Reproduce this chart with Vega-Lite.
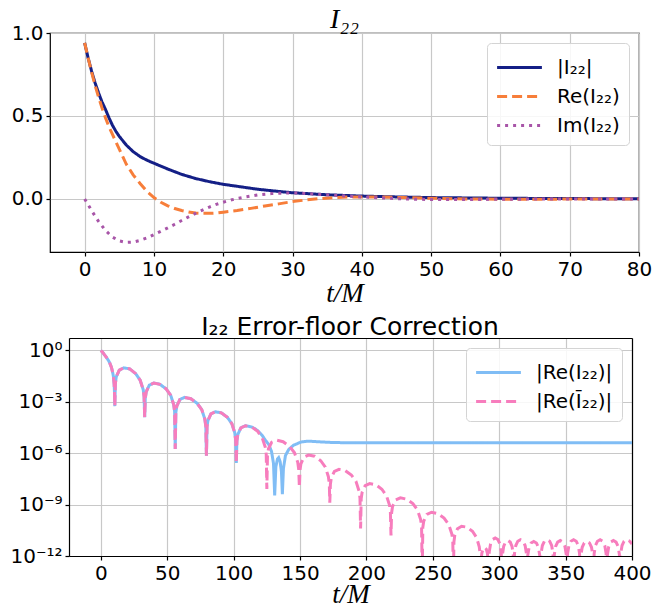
{
"$schema": "https://vega.github.io/schema/vega-lite/v6.json",
"background": "white",
"padding": {"left": 9, "top": 5, "right": 2, "bottom": 0},
"spacing": 8,
"bounds": "full",
"config": {
  "font": "DejaVu Sans",
  "view": {"stroke": "#000", "strokeWidth": 1.2},
  "axis": {"grid": true, "gridColor": "#c8c8c8", "gridWidth": 1.2, "domain": false, "domainColor": "#000", "domainWidth": 1.2, "tickColor": "#000", "tickSize": 4, "tickWidth": 1.2, "labelFont": "DejaVu Sans", "labelFontSize": 20, "labelColor": "#000", "labelPadding": 3, "titleFont": "Liberation Serif", "titleFontStyle": "italic", "titleFontWeight": "normal", "titleFontSize": 27, "titleColor": "#000", "titlePadding": 1, "labelFlush": false, "labelOverlap": false},
  "legend": {"orient": "top-right", "offset": 10, "fillColor": "rgba(255,255,255,0.85)", "strokeColor": "#d4d4d4", "cornerRadius": 4, "padding": 9, "labelFont": "DejaVu Sans", "labelFontSize": 20, "labelColor": "#000", "symbolType": "M-1.6,0H1.6", "symbolSize": 784, "symbolStrokeWidth": 3, "symbolOffset": 8, "labelOffset": 22, "rowPadding": 3},
  "title": {"fontWeight": "normal", "color": "#000"}
},
"resolve": {"scale": {"color": "independent", "strokeDash": "independent"}, "legend": {"color": "independent", "strokeDash": "independent"}},
"datasets": {
 "top": [
  {"t":0,"value":0.94,"series":"|I₂₂|"},{"t":0.5,"value":0.85,"series":"|I₂₂|"},{"t":1,"value":0.77,"series":"|I₂₂|"},{"t":1.5,"value":0.70,"series":"|I₂₂|"},{"t":2,"value":0.64,"series":"|I₂₂|"},{"t":2.5,"value":0.585,"series":"|I₂₂|"},{"t":3,"value":0.54,"series":"|I₂₂|"},{"t":3.5,"value":0.49,"series":"|I₂₂|"},{"t":4,"value":0.445,"series":"|I₂₂|"},{"t":4.5,"value":0.408,"series":"|I₂₂|"},{"t":5,"value":0.377,"series":"|I₂₂|"},{"t":6,"value":0.325,"series":"|I₂₂|"},{"t":7,"value":0.285,"series":"|I₂₂|"},{"t":8,"value":0.255,"series":"|I₂₂|"},{"t":9,"value":0.233,"series":"|I₂₂|"},{"t":10,"value":0.215,"series":"|I₂₂|"},{"t":12,"value":0.18,"series":"|I₂₂|"},{"t":14,"value":0.148,"series":"|I₂₂|"},{"t":16,"value":0.123,"series":"|I₂₂|"},{"t":18,"value":0.104,"series":"|I₂₂|"},{"t":20,"value":0.088,"series":"|I₂₂|"},{"t":22,"value":0.076,"series":"|I₂₂|"},{"t":25,"value":0.058,"series":"|I₂₂|"},{"t":28,"value":0.045,"series":"|I₂₂|"},{"t":30,"value":0.037,"series":"|I₂₂|"},{"t":35,"value":0.025,"series":"|I₂₂|"},{"t":40,"value":0.017,"series":"|I₂₂|"},{"t":45,"value":0.012,"series":"|I₂₂|"},{"t":50,"value":0.008,"series":"|I₂₂|"},{"t":55,"value":0.006,"series":"|I₂₂|"},{"t":60,"value":0.004,"series":"|I₂₂|"},{"t":70,"value":0.002,"series":"|I₂₂|"},{"t":80,"value":0.001,"series":"|I₂₂|"},
  {"t":0,"value":0.94,"series":"Re(I₂₂)"},{"t":0.5,"value":0.85,"series":"Re(I₂₂)"},{"t":1,"value":0.765,"series":"Re(I₂₂)"},{"t":1.5,"value":0.685,"series":"Re(I₂₂)"},{"t":2,"value":0.615,"series":"Re(I₂₂)"},{"t":2.5,"value":0.55,"series":"Re(I₂₂)"},{"t":3,"value":0.49,"series":"Re(I₂₂)"},{"t":3.5,"value":0.435,"series":"Re(I₂₂)"},{"t":4,"value":0.39,"series":"Re(I₂₂)"},{"t":5,"value":0.30,"series":"Re(I₂₂)"},{"t":6,"value":0.21,"series":"Re(I₂₂)"},{"t":7,"value":0.145,"series":"Re(I₂₂)"},{"t":8,"value":0.093,"series":"Re(I₂₂)"},{"t":9,"value":0.045,"series":"Re(I₂₂)"},{"t":10,"value":0.008,"series":"Re(I₂₂)"},{"t":11,"value":-0.02,"series":"Re(I₂₂)"},{"t":12,"value":-0.042,"series":"Re(I₂₂)"},{"t":13,"value":-0.058,"series":"Re(I₂₂)"},{"t":14,"value":-0.07,"series":"Re(I₂₂)"},{"t":15,"value":-0.079,"series":"Re(I₂₂)"},{"t":16,"value":-0.085,"series":"Re(I₂₂)"},{"t":17,"value":-0.087,"series":"Re(I₂₂)"},{"t":18,"value":-0.087,"series":"Re(I₂₂)"},{"t":19,"value":-0.085,"series":"Re(I₂₂)"},{"t":20,"value":-0.08,"series":"Re(I₂₂)"},{"t":22,"value":-0.07,"series":"Re(I₂₂)"},{"t":24,"value":-0.057,"series":"Re(I₂₂)"},{"t":26,"value":-0.043,"series":"Re(I₂₂)"},{"t":28,"value":-0.03,"series":"Re(I₂₂)"},{"t":30,"value":-0.016,"series":"Re(I₂₂)"},{"t":32,"value":-0.006,"series":"Re(I₂₂)"},{"t":34,"value":0.002,"series":"Re(I₂₂)"},{"t":36,"value":0.008,"series":"Re(I₂₂)"},{"t":38,"value":0.011,"series":"Re(I₂₂)"},{"t":40,"value":0.012,"series":"Re(I₂₂)"},{"t":43,"value":0.011,"series":"Re(I₂₂)"},{"t":46,"value":0.008,"series":"Re(I₂₂)"},{"t":50,"value":0.004,"series":"Re(I₂₂)"},{"t":55,"value":0.0,"series":"Re(I₂₂)"},{"t":60,"value":-0.002,"series":"Re(I₂₂)"},{"t":65,"value":-0.002,"series":"Re(I₂₂)"},{"t":70,"value":-0.001,"series":"Re(I₂₂)"},{"t":80,"value":0.0,"series":"Re(I₂₂)"},
  {"t":0,"value":0.0,"series":"Im(I₂₂)"},{"t":0.5,"value":-0.035,"series":"Im(I₂₂)"},{"t":1,"value":-0.07,"series":"Im(I₂₂)"},{"t":1.5,"value":-0.103,"series":"Im(I₂₂)"},{"t":2,"value":-0.135,"series":"Im(I₂₂)"},{"t":3,"value":-0.19,"series":"Im(I₂₂)"},{"t":4,"value":-0.23,"series":"Im(I₂₂)"},{"t":5,"value":-0.253,"series":"Im(I₂₂)"},{"t":6,"value":-0.262,"series":"Im(I₂₂)"},{"t":7,"value":-0.26,"series":"Im(I₂₂)"},{"t":8,"value":-0.25,"series":"Im(I₂₂)"},{"t":9,"value":-0.235,"series":"Im(I₂₂)"},{"t":10,"value":-0.215,"series":"Im(I₂₂)"},{"t":11,"value":-0.195,"series":"Im(I₂₂)"},{"t":12,"value":-0.175,"series":"Im(I₂₂)"},{"t":13,"value":-0.153,"series":"Im(I₂₂)"},{"t":14,"value":-0.13,"series":"Im(I₂₂)"},{"t":15,"value":-0.108,"series":"Im(I₂₂)"},{"t":16,"value":-0.087,"series":"Im(I₂₂)"},{"t":17,"value":-0.067,"series":"Im(I₂₂)"},{"t":18,"value":-0.049,"series":"Im(I₂₂)"},{"t":19,"value":-0.033,"series":"Im(I₂₂)"},{"t":20,"value":-0.02,"series":"Im(I₂₂)"},{"t":21,"value":-0.008,"series":"Im(I₂₂)"},{"t":22,"value":0.002,"series":"Im(I₂₂)"},{"t":23,"value":0.01,"series":"Im(I₂₂)"},{"t":25,"value":0.024,"series":"Im(I₂₂)"},{"t":27,"value":0.032,"series":"Im(I₂₂)"},{"t":29,"value":0.036,"series":"Im(I₂₂)"},{"t":31,"value":0.035,"series":"Im(I₂₂)"},{"t":34,"value":0.027,"series":"Im(I₂₂)"},{"t":37,"value":0.019,"series":"Im(I₂₂)"},{"t":40,"value":0.012,"series":"Im(I₂₂)"},{"t":43,"value":0.006,"series":"Im(I₂₂)"},{"t":46,"value":0.0,"series":"Im(I₂₂)"},{"t":50,"value":-0.004,"series":"Im(I₂₂)"},{"t":55,"value":-0.004,"series":"Im(I₂₂)"},{"t":60,"value":-0.002,"series":"Im(I₂₂)"},{"t":65,"value":-0.001,"series":"Im(I₂₂)"},{"t":70,"value":0.0,"series":"Im(I₂₂)"},{"t":80,"value":0.0,"series":"Im(I₂₂)"}
 ],
 "bottom": [
  {"t":0,"log10":-0.027,"series":"|Re(I₂₂)|"},{"t":1.2,"log10":-0.12,"series":"|Re(I₂₂)|"},{"t":2.9,"log10":-0.30,"series":"|Re(I₂₂)|"},{"t":4.1,"log10":-0.42,"series":"|Re(I₂₂)|"},{"t":5,"log10":-0.52,"series":"|Re(I₂₂)|"},{"t":6.5,"log10":-0.72,"series":"|Re(I₂₂)|"},{"t":8,"log10":-1.02,"series":"|Re(I₂₂)|"},{"t":9,"log10":-1.35,"series":"|Re(I₂₂)|"},{"t":9.5,"log10":-1.57,"series":"|Re(I₂₂)|"},{"t":10,"log10":-2.0,"series":"|Re(I₂₂)|"},{"t":10.3,"log10":-2.55,"series":"|Re(I₂₂)|"},{"t":10.5,"log10":-3.27,"series":"|Re(I₂₂)|"},
  {"t":10.95,"log10":-1.94,"series":"|Re(I₂₂)|"},{"t":11.6,"log10":-1.56,"series":"|Re(I₂₂)|"},{"t":13.9,"log10":-1.17,"series":"|Re(I₂₂)|"},{"t":17.25,"log10":-1.04,"series":"|Re(I₂₂)|"},{"t":21.75,"log10":-1.1,"series":"|Re(I₂₂)|"},{"t":26.25,"log10":-1.38,"series":"|Re(I₂₂)|"},{"t":29.6,"log10":-1.76,"series":"|Re(I₂₂)|"},{"t":31.9,"log10":-2.31,"series":"|Re(I₂₂)|"},{"t":32.55,"log10":-2.72,"series":"|Re(I₂₂)|"},{"t":33,"log10":-3.92,"series":"|Re(I₂₂)|"},
  {"t":33.46,"log10":-2.80,"series":"|Re(I₂₂)|"},{"t":34.15,"log10":-2.44,"series":"|Re(I₂₂)|"},{"t":36.45,"log10":-2.05,"series":"|Re(I₂₂)|"},{"t":39.9,"log10":-1.92,"series":"|Re(I₂₂)|"},{"t":44.5,"log10":-2.00,"series":"|Re(I₂₂)|"},{"t":49.1,"log10":-2.26,"series":"|Re(I₂₂)|"},{"t":52.55,"log10":-2.63,"series":"|Re(I₂₂)|"},{"t":54.85,"log10":-3.18,"series":"|Re(I₂₂)|"},{"t":55.54,"log10":-3.59,"series":"|Re(I₂₂)|"},{"t":56,"log10":-5.77,"series":"|Re(I₂₂)|"},
  {"t":56.47,"log10":-3.63,"series":"|Re(I₂₂)|"},{"t":57.18,"log10":-3.27,"series":"|Re(I₂₂)|"},{"t":59.53,"log10":-2.88,"series":"|Re(I₂₂)|"},{"t":63.05,"log10":-2.76,"series":"|Re(I₂₂)|"},{"t":67.75,"log10":-2.84,"series":"|Re(I₂₂)|"},{"t":72.45,"log10":-3.10,"series":"|Re(I₂₂)|"},{"t":75.98,"log10":-3.47,"series":"|Re(I₂₂)|"},{"t":78.33,"log10":-4.03,"series":"|Re(I₂₂)|"},{"t":79.03,"log10":-4.44,"series":"|Re(I₂₂)|"},{"t":79.5,"log10":-6.16,"series":"|Re(I₂₂)|"},
  {"t":79.95,"log10":-4.47,"series":"|Re(I₂₂)|"},{"t":80.63,"log10":-4.11,"series":"|Re(I₂₂)|"},{"t":82.88,"log10":-3.72,"series":"|Re(I₂₂)|"},{"t":86.25,"log10":-3.60,"series":"|Re(I₂₂)|"},{"t":90.75,"log10":-3.66,"series":"|Re(I₂₂)|"},{"t":95.25,"log10":-3.92,"series":"|Re(I₂₂)|"},{"t":98.63,"log10":-4.29,"series":"|Re(I₂₂)|"},{"t":100.88,"log10":-4.83,"series":"|Re(I₂₂)|"},{"t":101.55,"log10":-5.26,"series":"|Re(I₂₂)|"},{"t":102,"log10":-6.58,"series":"|Re(I₂₂)|"},
  {"t":102.46,"log10":-5.29,"series":"|Re(I₂₂)|"},{"t":103.15,"log10":-4.92,"series":"|Re(I₂₂)|"},{"t":105.45,"log10":-4.53,"series":"|Re(I₂₂)|"},{"t":108.9,"log10":-4.41,"series":"|Re(I₂₂)|"},{"t":113.5,"log10":-4.48,"series":"|Re(I₂₂)|"},
  {"t":116,"log10":-4.58,"series":"|Re(I₂₂)|"},{"t":118.1,"log10":-4.70,"series":"|Re(I₂₂)|"},{"t":121.55,"log10":-4.98,"series":"|Re(I₂₂)|"},{"t":123.85,"log10":-5.25,"series":"|Re(I₂₂)|"},{"t":126.4,"log10":-5.5,"series":"|Re(I₂₂)|"},{"t":128.5,"log10":-5.9,"series":"|Re(I₂₂)|"},{"t":130,"log10":-6.6,"series":"|Re(I₂₂)|"},{"t":130.9,"log10":-8.47,"series":"|Re(I₂₂)|"},{"t":131.8,"log10":-6.8,"series":"|Re(I₂₂)|"},{"t":133,"log10":-6.35,"series":"|Re(I₂₂)|"},{"t":133.9,"log10":-6.27,"series":"|Re(I₂₂)|"},{"t":135,"log10":-6.5,"series":"|Re(I₂₂)|"},{"t":136,"log10":-7.1,"series":"|Re(I₂₂)|"},{"t":136.7,"log10":-8.4,"series":"|Re(I₂₂)|"},{"t":137.5,"log10":-6.9,"series":"|Re(I₂₂)|"},{"t":139,"log10":-6.15,"series":"|Re(I₂₂)|"},{"t":141.5,"log10":-5.79,"series":"|Re(I₂₂)|"},{"t":145,"log10":-5.55,"series":"|Re(I₂₂)|"},{"t":150.8,"log10":-5.36,"series":"|Re(I₂₂)|"},{"t":156,"log10":-5.31,"series":"|Re(I₂₂)|"},{"t":165,"log10":-5.35,"series":"|Re(I₂₂)|"},{"t":175,"log10":-5.39,"series":"|Re(I₂₂)|"},{"t":185,"log10":-5.40,"series":"|Re(I₂₂)|"},{"t":250,"log10":-5.40,"series":"|Re(I₂₂)|"},{"t":320,"log10":-5.40,"series":"|Re(I₂₂)|"},{"t":400,"log10":-5.40,"series":"|Re(I₂₂)|"},

  {"t":0,"log10":-0.027,"series":"|Re(Ī₂₂)|"},{"t":1.2,"log10":-0.12,"series":"|Re(Ī₂₂)|"},{"t":2.9,"log10":-0.30,"series":"|Re(Ī₂₂)|"},{"t":4.1,"log10":-0.42,"series":"|Re(Ī₂₂)|"},{"t":5,"log10":-0.52,"series":"|Re(Ī₂₂)|"},{"t":6.5,"log10":-0.72,"series":"|Re(Ī₂₂)|"},{"t":8,"log10":-1.02,"series":"|Re(Ī₂₂)|"},{"t":9,"log10":-1.35,"series":"|Re(Ī₂₂)|"},{"t":9.5,"log10":-1.57,"series":"|Re(Ī₂₂)|"},{"t":10,"log10":-2.0,"series":"|Re(Ī₂₂)|"},{"t":10.3,"log10":-2.55,"series":"|Re(Ī₂₂)|"},{"t":10.5,"log10":-3.27,"series":"|Re(Ī₂₂)|"},
  {"t":10.95,"log10":-1.94,"series":"|Re(Ī₂₂)|"},{"t":11.6,"log10":-1.56,"series":"|Re(Ī₂₂)|"},{"t":13.9,"log10":-1.17,"series":"|Re(Ī₂₂)|"},{"t":17.25,"log10":-1.04,"series":"|Re(Ī₂₂)|"},{"t":21.75,"log10":-1.1,"series":"|Re(Ī₂₂)|"},{"t":26.25,"log10":-1.38,"series":"|Re(Ī₂₂)|"},{"t":29.6,"log10":-1.76,"series":"|Re(Ī₂₂)|"},{"t":31.9,"log10":-2.31,"series":"|Re(Ī₂₂)|"},{"t":32.55,"log10":-2.72,"series":"|Re(Ī₂₂)|"},{"t":33,"log10":-3.92,"series":"|Re(Ī₂₂)|"},
  {"t":33.46,"log10":-2.80,"series":"|Re(Ī₂₂)|"},{"t":34.15,"log10":-2.44,"series":"|Re(Ī₂₂)|"},{"t":36.45,"log10":-2.05,"series":"|Re(Ī₂₂)|"},{"t":39.9,"log10":-1.92,"series":"|Re(Ī₂₂)|"},{"t":44.5,"log10":-2.00,"series":"|Re(Ī₂₂)|"},{"t":49.1,"log10":-2.26,"series":"|Re(Ī₂₂)|"},{"t":52.55,"log10":-2.63,"series":"|Re(Ī₂₂)|"},{"t":54.85,"log10":-3.18,"series":"|Re(Ī₂₂)|"},{"t":55.54,"log10":-3.59,"series":"|Re(Ī₂₂)|"},{"t":56,"log10":-5.77,"series":"|Re(Ī₂₂)|"},
  {"t":56.47,"log10":-3.63,"series":"|Re(Ī₂₂)|"},{"t":57.18,"log10":-3.27,"series":"|Re(Ī₂₂)|"},{"t":59.53,"log10":-2.88,"series":"|Re(Ī₂₂)|"},{"t":63.05,"log10":-2.76,"series":"|Re(Ī₂₂)|"},{"t":67.75,"log10":-2.84,"series":"|Re(Ī₂₂)|"},{"t":72.45,"log10":-3.10,"series":"|Re(Ī₂₂)|"},{"t":75.98,"log10":-3.47,"series":"|Re(Ī₂₂)|"},{"t":78.33,"log10":-4.03,"series":"|Re(Ī₂₂)|"},{"t":79.03,"log10":-4.44,"series":"|Re(Ī₂₂)|"},{"t":79.5,"log10":-6.16,"series":"|Re(Ī₂₂)|"},
  {"t":79.95,"log10":-4.47,"series":"|Re(Ī₂₂)|"},{"t":80.63,"log10":-4.11,"series":"|Re(Ī₂₂)|"},{"t":82.88,"log10":-3.72,"series":"|Re(Ī₂₂)|"},{"t":86.25,"log10":-3.60,"series":"|Re(Ī₂₂)|"},{"t":90.75,"log10":-3.66,"series":"|Re(Ī₂₂)|"},{"t":95.25,"log10":-3.92,"series":"|Re(Ī₂₂)|"},{"t":98.63,"log10":-4.29,"series":"|Re(Ī₂₂)|"},{"t":100.88,"log10":-4.83,"series":"|Re(Ī₂₂)|"},{"t":101.55,"log10":-5.26,"series":"|Re(Ī₂₂)|"},{"t":102,"log10":-6.58,"series":"|Re(Ī₂₂)|"},
  {"t":102.46,"log10":-5.29,"series":"|Re(Ī₂₂)|"},{"t":103.15,"log10":-4.92,"series":"|Re(Ī₂₂)|"},{"t":105.45,"log10":-4.53,"series":"|Re(Ī₂₂)|"},{"t":108.9,"log10":-4.41,"series":"|Re(Ī₂₂)|"},{"t":113.5,"log10":-4.48,"series":"|Re(Ī₂₂)|"},
  {"t":118.1,"log10":-4.74,"series":"|Re(Ī₂₂)|"},{"t":121.55,"log10":-5.12,"series":"|Re(Ī₂₂)|"},{"t":123.85,"log10":-5.67,"series":"|Re(Ī₂₂)|"},{"t":124.54,"log10":-6.08,"series":"|Re(Ī₂₂)|"},{"t":125,"log10":-8.1,"series":"|Re(Ī₂₂)|"},
  {"t":125.49,"log10":-6.11,"series":"|Re(Ī₂₂)|"},{"t":126.23,"log10":-5.75,"series":"|Re(Ī₂₂)|"},{"t":128.68,"log10":-5.37,"series":"|Re(Ī₂₂)|"},{"t":132.35,"log10":-5.25,"series":"|Re(Ī₂₂)|"},{"t":137.25,"log10":-5.34,"series":"|Re(Ī₂₂)|"},{"t":142.15,"log10":-5.61,"series":"|Re(Ī₂₂)|"},{"t":145.83,"log10":-5.99,"series":"|Re(Ī₂₂)|"},{"t":148.28,"log10":-6.54,"series":"|Re(Ī₂₂)|"},{"t":149.01,"log10":-6.96,"series":"|Re(Ī₂₂)|"},{"t":149.5,"log10":-8.0,"series":"|Re(Ī₂₂)|"},
  {"t":149.96,"log10":-7.0,"series":"|Re(Ī₂₂)|"},{"t":150.65,"log10":-6.63,"series":"|Re(Ī₂₂)|"},{"t":152.95,"log10":-6.24,"series":"|Re(Ī₂₂)|"},{"t":156.4,"log10":-6.12,"series":"|Re(Ī₂₂)|"},{"t":161,"log10":-6.19,"series":"|Re(Ī₂₂)|"},{"t":165.6,"log10":-6.45,"series":"|Re(Ī₂₂)|"},{"t":169.05,"log10":-6.82,"series":"|Re(Ī₂₂)|"},{"t":171.35,"log10":-7.38,"series":"|Re(Ī₂₂)|"},{"t":172.04,"log10":-7.79,"series":"|Re(Ī₂₂)|"},{"t":172.4,"log10":-8.9,"series":"|Re(Ī₂₂)|"},
  {"t":172.86,"log10":-7.82,"series":"|Re(Ī₂₂)|"},{"t":173.56,"log10":-7.45,"series":"|Re(Ī₂₂)|"},{"t":175.88,"log10":-7.07,"series":"|Re(Ī₂₂)|"},{"t":179.36,"log10":-6.95,"series":"|Re(Ī₂₂)|"},{"t":184,"log10":-7.02,"series":"|Re(Ī₂₂)|"},{"t":188.64,"log10":-7.28,"series":"|Re(Ī₂₂)|"},{"t":192.12,"log10":-7.65,"series":"|Re(Ī₂₂)|"},{"t":194.44,"log10":-8.21,"series":"|Re(Ī₂₂)|"},{"t":195.14,"log10":-8.62,"series":"|Re(Ī₂₂)|"},{"t":195.6,"log10":-10.4,"series":"|Re(Ī₂₂)|"},
  {"t":196.06,"log10":-8.65,"series":"|Re(Ī₂₂)|"},{"t":196.75,"log10":-8.29,"series":"|Re(Ī₂₂)|"},{"t":199.04,"log10":-7.90,"series":"|Re(Ī₂₂)|"},{"t":202.47,"log10":-7.78,"series":"|Re(Ī₂₂)|"},{"t":207.05,"log10":-7.85,"series":"|Re(Ī₂₂)|"},{"t":211.63,"log10":-8.11,"series":"|Re(Ī₂₂)|"},{"t":215.07,"log10":-8.48,"series":"|Re(Ī₂₂)|"},{"t":217.36,"log10":-9.03,"series":"|Re(Ī₂₂)|"},{"t":218.04,"log10":-9.45,"series":"|Re(Ī₂₂)|"},{"t":218.5,"log10":-10.8,"series":"|Re(Ī₂₂)|"},
  {"t":218.97,"log10":-9.48,"series":"|Re(Ī₂₂)|"},{"t":219.68,"log10":-9.11,"series":"|Re(Ī₂₂)|"},{"t":222.03,"log10":-8.73,"series":"|Re(Ī₂₂)|"},{"t":225.55,"log10":-8.61,"series":"|Re(Ī₂₂)|"},{"t":230.25,"log10":-8.69,"series":"|Re(Ī₂₂)|"},{"t":234.95,"log10":-8.95,"series":"|Re(Ī₂₂)|"},{"t":238.48,"log10":-9.32,"series":"|Re(Ī₂₂)|"},{"t":240.83,"log10":-9.88,"series":"|Re(Ī₂₂)|"},{"t":241.53,"log10":-10.29,"series":"|Re(Ī₂₂)|"},{"t":242,"log10":-13,"series":"|Re(Ī₂₂)|"},
  {"t":242.47,"log10":-10.33,"series":"|Re(Ī₂₂)|"},{"t":243.18,"log10":-9.96,"series":"|Re(Ī₂₂)|"},{"t":245.53,"log10":-9.58,"series":"|Re(Ī₂₂)|"},{"t":249.05,"log10":-9.45,"series":"|Re(Ī₂₂)|"},{"t":253.75,"log10":-9.53,"series":"|Re(Ī₂₂)|"},{"t":258.45,"log10":-9.79,"series":"|Re(Ī₂₂)|"},{"t":261.98,"log10":-10.17,"series":"|Re(Ī₂₂)|"},{"t":264.33,"log10":-10.72,"series":"|Re(Ī₂₂)|"},{"t":265.03,"log10":-11.14,"series":"|Re(Ī₂₂)|"},{"t":265.5,"log10":-13,"series":"|Re(Ī₂₂)|"},
  {"t":265.91,"log10":-11.17,"series":"|Re(Ī₂₂)|"},{"t":266.53,"log10":-10.80,"series":"|Re(Ī₂₂)|"},{"t":268.58,"log10":-10.41,"series":"|Re(Ī₂₂)|"},{"t":271.65,"log10":-10.27,"series":"|Re(Ī₂₂)|"},{"t":275.75,"log10":-10.32,"series":"|Re(Ī₂₂)|"},{"t":279.85,"log10":-10.56,"series":"|Re(Ī₂₂)|"},{"t":282.93,"log10":-10.92,"series":"|Re(Ī₂₂)|"},{"t":284.98,"log10":-11.47,"series":"|Re(Ī₂₂)|"},{"t":285.59,"log10":-11.88,"series":"|Re(Ī₂₂)|"},{"t":286,"log10":-13,"series":"|Re(Ī₂₂)|"},
  {"t":286.3,"log10":-12.31,"series":"|Re(Ī₂₂)|"},{"t":286.9,"log10":-11.84,"series":"|Re(Ī₂₂)|"},{"t":287.8,"log10":-11.59,"series":"|Re(Ī₂₂)|"},{"t":289,"log10":-11.5,"series":"|Re(Ī₂₂)|"},{"t":290.2,"log10":-11.59,"series":"|Re(Ī₂₂)|"},{"t":291.1,"log10":-11.84,"series":"|Re(Ī₂₂)|"},{"t":291.7,"log10":-12.31,"series":"|Re(Ī₂₂)|"},{"t":292,"log10":-13,"series":"|Re(Ī₂₂)|"},
  {"t":292.5,"log10":-11.76,"series":"|Re(Ī₂₂)|"},{"t":293.5,"log10":-11.29,"series":"|Re(Ī₂₂)|"},{"t":295,"log10":-11.04,"series":"|Re(Ī₂₂)|"},{"t":297,"log10":-10.95,"series":"|Re(Ī₂₂)|"},{"t":299,"log10":-11.04,"series":"|Re(Ī₂₂)|"},{"t":300.5,"log10":-11.29,"series":"|Re(Ī₂₂)|"},{"t":301.5,"log10":-11.76,"series":"|Re(Ī₂₂)|"},{"t":302,"log10":-13,"series":"|Re(Ī₂₂)|"},
  {"t":302.45,"log10":-11.91,"series":"|Re(Ī₂₂)|"},{"t":303.35,"log10":-11.44,"series":"|Re(Ī₂₂)|"},{"t":304.7,"log10":-11.19,"series":"|Re(Ī₂₂)|"},{"t":306.5,"log10":-11.1,"series":"|Re(Ī₂₂)|"},{"t":308.3,"log10":-11.19,"series":"|Re(Ī₂₂)|"},{"t":309.65,"log10":-11.44,"series":"|Re(Ī₂₂)|"},{"t":310.55,"log10":-11.91,"series":"|Re(Ī₂₂)|"},{"t":311,"log10":-13,"series":"|Re(Ī₂₂)|"},
  {"t":311.5,"log10":-11.86,"series":"|Re(Ī₂₂)|"},{"t":312.5,"log10":-11.39,"series":"|Re(Ī₂₂)|"},{"t":314,"log10":-11.14,"series":"|Re(Ī₂₂)|"},{"t":316,"log10":-11.05,"series":"|Re(Ī₂₂)|"},{"t":318,"log10":-11.14,"series":"|Re(Ī₂₂)|"},{"t":319.5,"log10":-11.39,"series":"|Re(Ī₂₂)|"},{"t":320.5,"log10":-11.86,"series":"|Re(Ī₂₂)|"},{"t":321,"log10":-13,"series":"|Re(Ī₂₂)|"},
  {"t":321.5,"log10":-11.96,"series":"|Re(Ī₂₂)|"},{"t":322.5,"log10":-11.49,"series":"|Re(Ī₂₂)|"},{"t":324,"log10":-11.24,"series":"|Re(Ī₂₂)|"},{"t":326,"log10":-11.15,"series":"|Re(Ī₂₂)|"},{"t":328,"log10":-11.24,"series":"|Re(Ī₂₂)|"},{"t":329.5,"log10":-11.49,"series":"|Re(Ī₂₂)|"},{"t":330.5,"log10":-11.96,"series":"|Re(Ī₂₂)|"},{"t":331,"log10":-13,"series":"|Re(Ī₂₂)|"},
  {"t":331.5,"log10":-11.86,"series":"|Re(Ī₂₂)|"},{"t":332.5,"log10":-11.39,"series":"|Re(Ī₂₂)|"},{"t":334,"log10":-11.14,"series":"|Re(Ī₂₂)|"},{"t":336,"log10":-11.05,"series":"|Re(Ī₂₂)|"},{"t":338,"log10":-11.14,"series":"|Re(Ī₂₂)|"},{"t":339.5,"log10":-11.39,"series":"|Re(Ī₂₂)|"},{"t":340.5,"log10":-11.86,"series":"|Re(Ī₂₂)|"},{"t":341,"log10":-13,"series":"|Re(Ī₂₂)|"},
  {"t":341.5,"log10":-11.91,"series":"|Re(Ī₂₂)|"},{"t":342.5,"log10":-11.44,"series":"|Re(Ī₂₂)|"},{"t":344,"log10":-11.19,"series":"|Re(Ī₂₂)|"},{"t":346,"log10":-11.1,"series":"|Re(Ī₂₂)|"},{"t":348,"log10":-11.19,"series":"|Re(Ī₂₂)|"},{"t":349.5,"log10":-11.44,"series":"|Re(Ī₂₂)|"},{"t":350.5,"log10":-11.91,"series":"|Re(Ī₂₂)|"},{"t":351,"log10":-13,"series":"|Re(Ī₂₂)|"},
  {"t":351.5,"log10":-11.86,"series":"|Re(Ī₂₂)|"},{"t":352.5,"log10":-11.39,"series":"|Re(Ī₂₂)|"},{"t":354,"log10":-11.14,"series":"|Re(Ī₂₂)|"},{"t":356,"log10":-11.05,"series":"|Re(Ī₂₂)|"},{"t":358,"log10":-11.14,"series":"|Re(Ī₂₂)|"},{"t":359.5,"log10":-11.39,"series":"|Re(Ī₂₂)|"},{"t":360.5,"log10":-11.86,"series":"|Re(Ī₂₂)|"},{"t":361,"log10":-13,"series":"|Re(Ī₂₂)|"},
  {"t":361.5,"log10":-11.96,"series":"|Re(Ī₂₂)|"},{"t":362.5,"log10":-11.49,"series":"|Re(Ī₂₂)|"},{"t":364,"log10":-11.24,"series":"|Re(Ī₂₂)|"},{"t":366,"log10":-11.15,"series":"|Re(Ī₂₂)|"},{"t":368,"log10":-11.24,"series":"|Re(Ī₂₂)|"},{"t":369.5,"log10":-11.49,"series":"|Re(Ī₂₂)|"},{"t":370.5,"log10":-11.96,"series":"|Re(Ī₂₂)|"},{"t":371,"log10":-13,"series":"|Re(Ī₂₂)|"},
  {"t":371.5,"log10":-11.86,"series":"|Re(Ī₂₂)|"},{"t":372.5,"log10":-11.39,"series":"|Re(Ī₂₂)|"},{"t":374,"log10":-11.14,"series":"|Re(Ī₂₂)|"},{"t":376,"log10":-11.05,"series":"|Re(Ī₂₂)|"},{"t":378,"log10":-11.14,"series":"|Re(Ī₂₂)|"},{"t":379.5,"log10":-11.39,"series":"|Re(Ī₂₂)|"},{"t":380.5,"log10":-11.86,"series":"|Re(Ī₂₂)|"},{"t":381,"log10":-13,"series":"|Re(Ī₂₂)|"},
  {"t":381.5,"log10":-11.91,"series":"|Re(Ī₂₂)|"},{"t":382.5,"log10":-11.44,"series":"|Re(Ī₂₂)|"},{"t":384,"log10":-11.19,"series":"|Re(Ī₂₂)|"},{"t":386,"log10":-11.1,"series":"|Re(Ī₂₂)|"},{"t":388,"log10":-11.19,"series":"|Re(Ī₂₂)|"},{"t":389.5,"log10":-11.44,"series":"|Re(Ī₂₂)|"},{"t":390.5,"log10":-11.91,"series":"|Re(Ī₂₂)|"},{"t":391,"log10":-13,"series":"|Re(Ī₂₂)|"},
  {"t":391.5,"log10":-11.86,"series":"|Re(Ī₂₂)|"},{"t":392.5,"log10":-11.39,"series":"|Re(Ī₂₂)|"},{"t":394,"log10":-11.14,"series":"|Re(Ī₂₂)|"},{"t":396,"log10":-11.05,"series":"|Re(Ī₂₂)|"},{"t":398,"log10":-11.12,"series":"|Re(Ī₂₂)|"},{"t":400,"log10":-11.3,"series":"|Re(Ī₂₂)|"}
 ]
},
"vconcat": [
 {
  "width": 589, "height": 219,
  "title": {"text": "I₂₂", "font": "Liberation Serif", "fontStyle": "italic", "fontSize": 28, "offset": -11, "frame": "group"},
  "data": {"name": "top"},
  "mark": {"type": "line", "strokeWidth": 3, "clip": true, "strokeCap": "butt"},
  "encoding": {
   "x": {"field": "t", "type": "quantitative", "scale": {"domain": [-5, 80], "nice": false, "zero": false}, "axis": {"values": [0,10,20,30,40,50,60,70,80], "title": "t/M"}},
   "y": {"field": "value", "type": "quantitative", "scale": {"domain": [-0.32, 1.0], "nice": false, "zero": false}, "axis": {"values": [0, 0.5, 1.0], "format": ".1f", "title": null}},
   "color": {"field": "series", "type": "nominal", "scale": {"domain": ["|I₂₂|", "Re(I₂₂)", "Im(I₂₂)"], "range": ["#141f86", "#f77e3a", "#a855a8"]}, "legend": {"title": null}},
   "strokeDash": {"field": "series", "type": "nominal", "scale": {"domain": ["|I₂₂|", "Re(I₂₂)", "Im(I₂₂)"], "range": [[1,0],[10,5],[3,5]]}, "legend": {"title": null}}
  }
 },
 {
  "width": 582, "height": 218,
  "view": {"stroke": null},
  "title": {"text": "I₂₂ Error-floor Correction", "font": "DejaVu Sans", "fontSize": 25, "offset": -2, "frame": "group", "dx": 9},
  "data": {"name": "bottom"},
  "encoding": {
   "color": {"field": "series", "type": "nominal", "scale": {"domain": ["|Re(I₂₂)|", "|Re(Ī₂₂)|"], "range": ["#80bdf5", "#f77dbd"]}, "legend": {"title": null}},
   "strokeDash": {"field": "series", "type": "nominal", "scale": {"domain": ["|Re(I₂₂)|", "|Re(Ī₂₂)|"], "range": [[1,0],[10,5]]}, "legend": {"title": null}}
  },
  "layer": [
   {
    "transform": [{"filter": "datum.series == '|Re(I₂₂)|'"}],
    "mark": {"type": "line", "strokeWidth": 3, "clip": true, "strokeCap": "butt"},
    "encoding": {
     "x": {"field": "t", "type": "quantitative", "scale": {"domain": [-24, 400], "range": [19, 582], "nice": false, "zero": false}, "axis": {"values": [0,50,100,150,200,250,300,350,400], "title": "t/M", "domain": true, "labelPadding": 3, "titlePadding": -2}},
     "y": {"field": "log10", "type": "quantitative", "scale": {"domain": [-12, 0.7], "nice": false, "zero": false}, "axis": {"values": [0,-3,-6,-9,-12], "offset": -19, "domain": true, "labelExpr": "datum.value == 0 ? '10⁰' : datum.value == -3 ? '10⁻³' : datum.value == -6 ? '10⁻⁶' : datum.value == -9 ? '10⁻⁹' : '10⁻¹²'", "title": null}}
    }
   },
   {
    "transform": [{"filter": "datum.series == '|Re(Ī₂₂)|'"}],
    "mark": {"type": "line", "strokeWidth": 3, "clip": true, "strokeCap": "butt"},
    "encoding": {
     "x": {"field": "t", "type": "quantitative", "axis": {"orient": "top", "labels": false, "ticks": false, "grid": false, "domain": true, "title": null}},
     "y": {"field": "log10", "type": "quantitative", "axis": {"orient": "right", "labels": false, "ticks": false, "grid": false, "domain": true, "title": null}}
    }
   }
  ],
  "resolve": {"axis": {"x": "independent", "y": "independent"}}
 }
]
}
